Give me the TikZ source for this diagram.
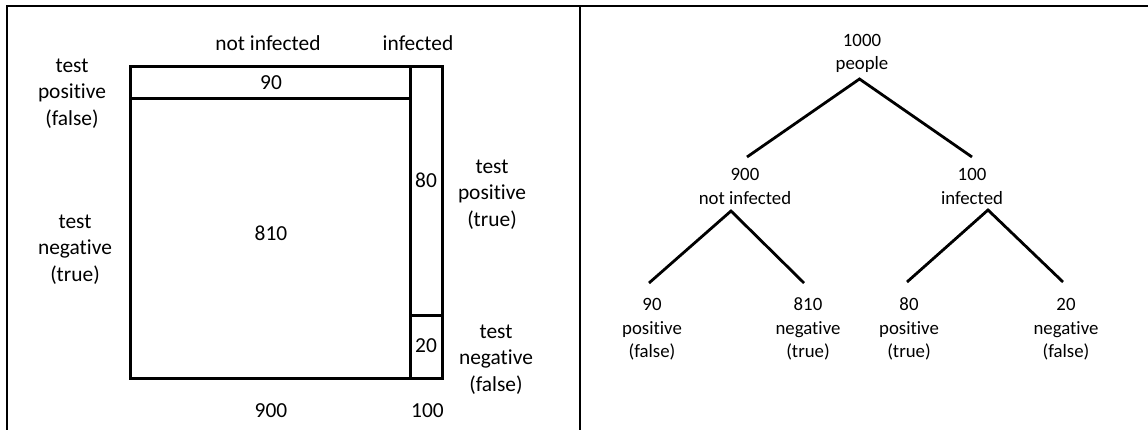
\documentclass[tikz,border=0pt]{standalone}
\usepackage{fontspec}
\setmainfont{Carlito}[Ligatures=NoCommon]
\begin{document}
\begin{tikzpicture}[x=1pt,y=-1pt,
  big/.style={font=\fontsize{21.4}{26.5}\selectfont, align=center, inner sep=0pt,
    execute at begin node=\strut, execute at end node=\strut},
  small/.style={font=\fontsize{18.8}{23.5}\selectfont, align=center, inner sep=0pt,
    execute at begin node=\strut, execute at end node=\strut},
  frame/.style={line width=2.2pt},
  cell/.style={line width=3pt},
  branch/.style={line width=2.8pt}]
\useasboundingbox (0,0) rectangle (1148,430);
% frame
\draw[frame] (7,430) -- (7,6) -- (1148,6);
\draw[frame] (580,6) -- (580,430);
% left panel: mosaic
\draw[cell] (130,66.5) rectangle (442,378);
\draw[cell] (410,66.5) -- (410,378);
\draw[cell] (130,98.5) -- (410,98.5);
\draw[cell] (410,315) -- (442,315);
\node[big] (notinf) at (268,45) {not infected};
\node[big] (inf) at (418,45) {infected};
\node[big] (tpf) at (72,96) {test\\positive\\(false)};
\node[big] (tnt) at (75,252) {test\\negative\\(true)};
\node[big] (tpt) at (492,197) {test\\positive\\(true)};
\node[big] (tnf) at (496,362) {test\\negative\\(false)};
\node[big] (c90) at (271,84) {90};
\node[big] (c810) at (271,235) {810};
\node[big] (c80) at (426,182) {80};
\node[big] (c20) at (426,347) {20};
\node[big] (m900) at (271,412) {900};
\node[big] (m100) at (427.5,412) {100};
% right panel: tree
\node[small] (root) at (862,55.5) {1000\\people};
\node[small] (n900) at (745,190) {900\\not infected};
\node[small] (n100) at (972,190) {100\\infected};
\node[small] (l90) at (652,331.5) {90\\positive\\(false)};
\node[small] (l810) at (808,331.5) {810\\negative\\(true)};
\node[small] (l80) at (909,331.5) {80\\positive\\(true)};
\node[small] (l20) at (1066,331.5) {20\\negative\\(false)};
\draw[branch] ([shift={(2,-33)}]n900.center) -- ([shift={(-2.5,23.5)}]root.center) -- ([shift={(0,-33)}]n100.center);
\draw[branch] ([shift={(-3,-48.5)}]l90.center) -- ([shift={(-14,21)}]n900.center) -- ([shift={(-4,-48.5)}]l810.center);
\draw[branch] ([shift={(-2,-49.5)}]l80.center) -- ([shift={(16,20)}]n100.center) -- ([shift={(-3,-49.5)}]l20.center);
\end{tikzpicture}
\end{document}
